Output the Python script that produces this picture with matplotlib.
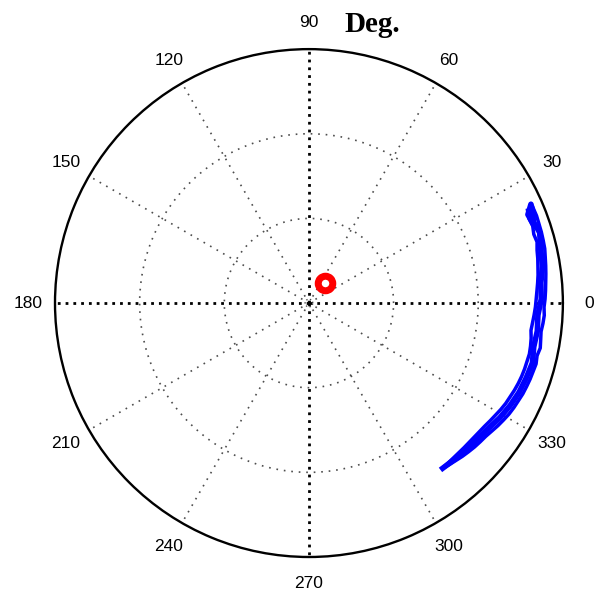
import numpy as np
import matplotlib
matplotlib.use('Agg')
import matplotlib.pyplot as plt

# angle labels round the circle
tick_angles = [0, 30, 60, 90, 120, 150, 180, 210, 240, 270, 300, 330]

# blue trace (degrees, fraction of outer radius)
trace_up_theta = [-51, -49, -47, -45, -43, -41, -39, -37, -35, -33, -31, -29, -27, -25,
                  -23, -21, -19, -17, -15, -13, -11, -9, -7, -5, -3, -1, 1, 3, 5, 7, 9,
                  11, 13, 15, 17, 19, 21, 23]
trace_up_r = [0.838, 0.843, 0.848, 0.854, 0.859, 0.864, 0.868, 0.872, 0.879, 0.887, 0.894,
              0.901, 0.906, 0.910, 0.915, 0.918, 0.921, 0.923, 0.926, 0.922, 0.928, 0.924,
              0.921, 0.925, 0.928, 0.926, 0.930, 0.933, 0.936, 0.940, 0.944, 0.948, 0.953,
              0.955, 0.957, 0.958, 0.960, 0.959]
trace_down_theta = [23, 21, 19, 17, 15, 13, 11, 9, 7, 5, 3, 1, -1, -3, -5, -7, -9, -11, -13,
                    -15, -17, -19, -21, -23, -25, -27, -29, -31, -33, -35, -37, -39, -41,
                    -43, -45, -47, -49, -51]
trace_down_r = [0.935, 0.928, 0.932, 0.926, 0.930, 0.922, 0.918, 0.913, 0.909, 0.904, 0.899,
                0.895, 0.892, 0.888, 0.884, 0.881, 0.886, 0.889, 0.891, 0.889, 0.888, 0.886,
                0.883, 0.879, 0.874, 0.870, 0.864, 0.857, 0.851, 0.845, 0.841, 0.838, 0.836,
                0.835, 0.834, 0.834, 0.835, 0.836]
trace_mid_theta = [-51, -47, -43, -39, -35, -31, -27, -23, -19, -15, -11, -7, -3, 1, 5, 9,
                   13, 17, 20, 22, 24, 22, 19]
trace_mid_r = [0.837, 0.841, 0.847, 0.853, 0.862, 0.877, 0.889, 0.899, 0.905, 0.911, 0.902,
               0.906, 0.903, 0.915, 0.917, 0.931, 0.937, 0.950, 0.940, 0.952, 0.957, 0.930,
               0.938]

# red marker
marker_theta = [51]
marker_r = [0.10]

fig = plt.figure(figsize=(5.94, 5.94), dpi=100)
ax = fig.add_axes([0.0926, 0.0623, 0.855, 0.855], projection='polar')
ax.set_ylim(0, 1)
ax.grid(False)
ax.set_xticks([])
ax.set_yticks([])
ax.spines['polar'].set_linewidth(1.7)
ax.spines['polar'].set_color('black')

grid_style = dict(color='0.3', ls=(0, (1, 3.5)), lw=1.2)

# rings and spokes
ring = np.linspace(0, 2 * np.pi, 361)
for rr in [1 / 3, 2 / 3]:
	ax.plot(ring, np.full_like(ring, rr), **grid_style)
ax.plot(ring, np.full_like(ring, 0.015), color='0.3', ls=':', lw=1.0)
for a in [30, 60, 120, 150, 210, 240, 300, 330]:
	t = np.deg2rad(a)
	ax.plot([t, t], [0, 1], **grid_style)
for a in [0, 90, 180, 270]:
	t = np.deg2rad(a)
	ax.plot([t, t], [0, 1], color='black', ls=(0, (1, 1.8)), lw=2.0)

for a in tick_angles:
	ax.text(np.deg2rad(a), 1.105, str(a), ha='center', va='center',
			fontsize=12.5, family='Liberation Sans', clip_on=False)

ax.plot(np.deg2rad(trace_up_theta), trace_up_r, color='#0000ff', lw=2.5)
ax.plot(np.deg2rad(trace_down_theta), trace_down_r, color='#0000ff', lw=2.5)
ax.plot(np.deg2rad(trace_mid_theta), trace_mid_r, color='#0000ff', lw=4.0)

ax.plot(np.deg2rad(marker_theta), marker_r, 'o', ms=10.5, mfc='none', mec='#ff0000', mew=5)

fig.text(0.627, 0.958, 'Deg.', ha='center', va='center', fontsize=21,
		 family='Liberation Serif', weight='bold')

fig.savefig('out.png', dpi=100)
plt.close()
